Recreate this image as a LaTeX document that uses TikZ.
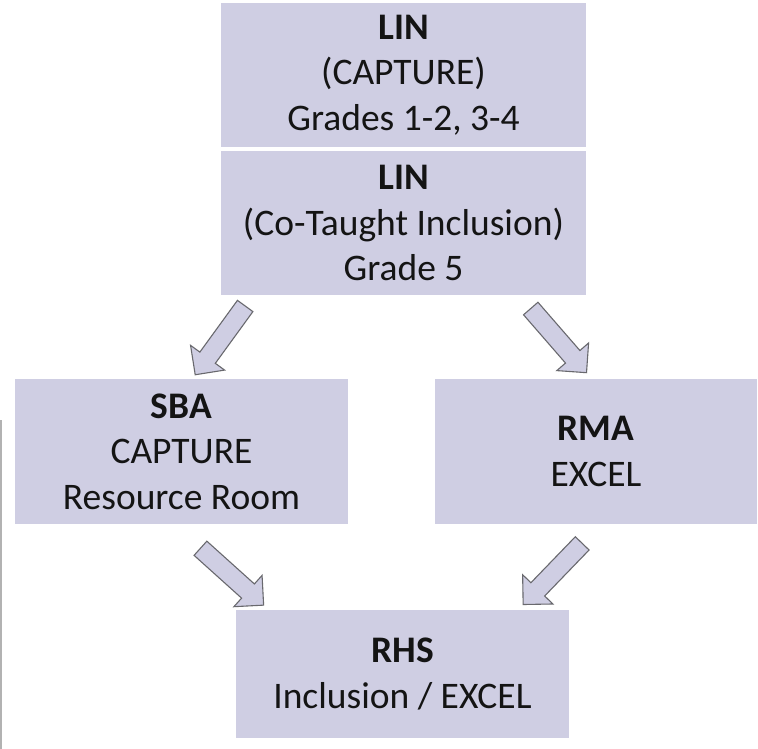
\documentclass[tikz,border=0pt]{standalone}
\usepackage{fontspec}
\setmainfont{Carlito}
\usetikzlibrary{shapes.arrows}
\definecolor{boxfill}{RGB}{207,206,227}
\definecolor{arrowline}{RGB}{105,105,110}
\definecolor{txt}{RGB}{20,20,20}
\begin{document}
\begin{tikzpicture}[x=1pt,y=-1pt,
  box/.style={fill=boxfill, draw=none, align=center, text=txt,
    font=\fontsize{37.5}{45.5}\selectfont, inner sep=0pt},
  blockarrow/.style={single arrow, fill=boxfill, draw=arrowline, line width=1.1pt,
    inner xsep=0pt, inner ysep=9pt, single arrow head extend=11.5pt,
    minimum height=85pt, anchor=center}]
\useasboundingbox (0,0) rectangle (758,749);
\fill[white] (0,0) rectangle (758,749);
\draw[gray!60, line width=1.5pt] (1,420) -- (1,749);

\node[box, minimum width=365pt, minimum height=144pt] (lin1) at (403.5,75)
  {\textbf{LIN}\\(CAPTURE)\\Grades 1-2, 3-4};
\node[box, minimum width=365pt, minimum height=144pt] (lin2) at (403.5,223)
  {\textbf{LIN}\\(Co-Taught Inclusion)\\Grade 5};
\node[box, minimum width=333pt, minimum height=145pt] (sba) at (181.5,451.5)
  {\textbf{SBA}\\CAPTURE\\Resource Room};
\node[box, minimum width=322pt, minimum height=145pt] (rma) at (596,451.5)
  {\textbf{RMA}\\EXCEL};
\node[box, minimum width=333pt, minimum height=128pt] (rhs) at (402.5,674)
  {\textbf{RHS}\\Inclusion / EXCEL};

\node[blockarrow, rotate=-126] (a1) at (223,336.5) {};
\node[blockarrow, rotate=-49] (a2) at (555.5,337) {};
\node[blockarrow, rotate=-42] (a3) at (228.5,573.5) {};
\node[blockarrow, rotate=-134] (a4) at (556,570.5) {};
\end{tikzpicture}
\end{document}
